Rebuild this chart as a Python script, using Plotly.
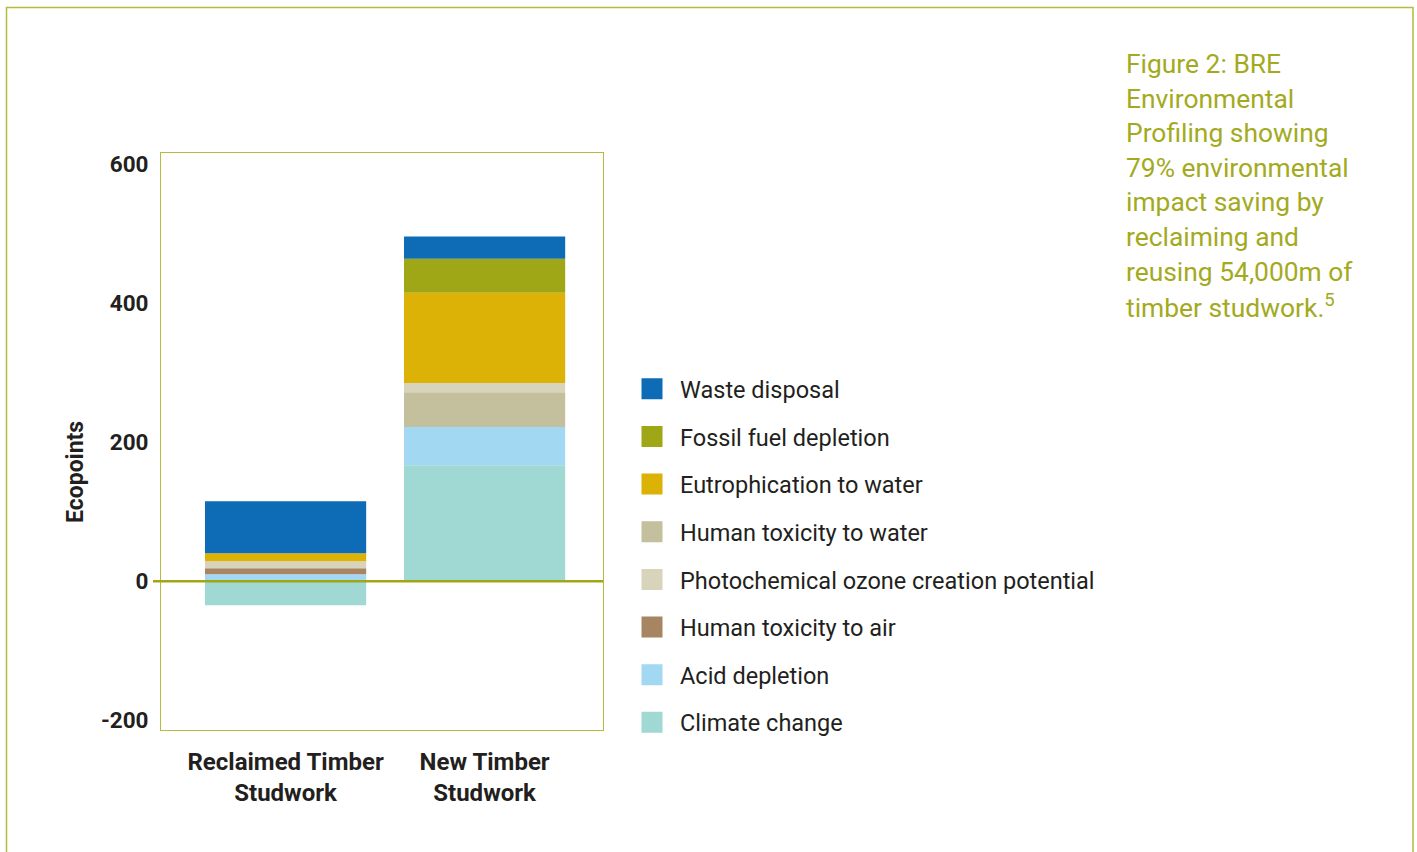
import plotly.graph_objects as go

categories = ["Reclaimed Timber<br>Studwork", "New Timber<br>Studwork"]

# stacking order, bottom to top
series_names = ["Climate change", "Acid depletion", "Human toxicity to air",
                "Human toxicity to water", "Photochemical ozone creation potential",
                "Eutrophication to water", "Fossil fuel depletion", "Waste disposal"]
climate_change = [-34.5, 167]
acid_depletion = [10, 55]
human_tox_air = [8.7, 0]
human_tox_water = [0, 50]
photochemical = [10, 13]
eutrophication = [11.5, 130]
fossil_fuel = [0, 49]
waste_disposal = [75, 32]
series_values = [climate_change, acid_depletion, human_tox_air, human_tox_water,
                 photochemical, eutrophication, fossil_fuel, waste_disposal]
series_colors = ["#A0D8D3", "#A3D8F3", "#A78563", "#C4BF9D", "#D8D3BB",
                 "#DDB206", "#A0A716", "#0D6CB5"]

legend_order = ["Waste disposal", "Fossil fuel depletion", "Eutrophication to water",
                "Human toxicity to water", "Photochemical ozone creation potential",
                "Human toxicity to air", "Acid depletion", "Climate change"]

y_ticks = [-200, 0, 200, 400, 600]
y_tick_labels = ["-200", "0", "200", "400", "600"]
y_title = "Ecopoints"

caption_lines = ["Figure 2: BRE", "Environmental", "Profiling showing",
                 "79% environmental", "impact saving by", "reclaiming and",
                 "reusing 54,000m of", "timber studwork.<sup>5</sup>"]

OLIVE = "#A0A716"
TEXT = "#231F20"
FONT = "Roboto"

W, H = 1417, 852
L, R, T, B = 161, 603, 153, 730  # plot area in pixels

fig = go.Figure()
color_of = dict(zip(series_names, series_colors))
for name, vals, col in zip(series_names, series_values, series_colors):
    fig.add_trace(go.Bar(x=categories, y=vals, name=name, marker=dict(color=col, line=dict(width=0)),
                         width=0.81, showlegend=False, hoverinfo="y+name"))

for i, name in enumerate(legend_order):
    c = color_of[name]
    fig.add_trace(go.Scatter(x=[None], y=[None], mode="markers", name=name,
                             legendgroup=f"g{i}",
                             marker=dict(symbol="square", size=16, color=c,
                                         line=dict(color=c, width=5))))

def px_x(p):
    return (p - L) / (R - L)

def px_y(p):
    return (B - p) / (B - T)

shapes = [
    # outer frame
    dict(type="rect", xref="paper", yref="paper", x0=px_x(6.5), x1=px_x(1413), y0=px_y(870), y1=px_y(7.5),
         line=dict(color="#B5BB3F", width=1.5), layer="below"),
    # zero line
    dict(type="line", xref="paper", yref="y", x0=px_x(153), x1=1, y0=0, y1=0,
         line=dict(color=OLIVE, width=2.5), layer="above"),
]

annotations = []
for i, line in enumerate(caption_lines):
    annotations.append(dict(xref="paper", yref="paper", x=px_x(1124), y=px_y(64 + i * 34.6),
                            xanchor="left", yanchor="middle", showarrow=False, align="left",
                            text=line, font=dict(family=FONT, size=26.4, color="#A3AA1E")))
annotations.append(dict(xref="paper", yref="paper", x=px_x(75), y=px_y(472),
                        xanchor="center", yanchor="middle", showarrow=False, textangle=-90,
                        text=y_title, font=dict(family=FONT, size=23, color=TEXT, weight="bold")))

fig.update_layout(
    width=W, height=H,
    margin=dict(l=L, r=W - R, t=T, b=H - B, autoexpand=False),
    paper_bgcolor="white", plot_bgcolor="white",
    barmode="relative",
    showlegend=True,
    legend=dict(x=px_x(624), y=px_y(367), xanchor="left", yanchor="top",
                traceorder="grouped", tracegroupgap=14.1, bgcolor="rgba(0,0,0,0)",
                itemwidth=46,
                font=dict(family=FONT, size=23.5, color=TEXT)),
    shapes=shapes,
    annotations=annotations,
    font=dict(family=FONT, color=TEXT),
)

fig.update_xaxes(
    range=[-0.626, 1.595], showgrid=False, zeroline=False,
    showline=True, mirror=True, linecolor="#B5BB3F", linewidth=1,
    ticks="", ticklabelstandoff=10,
    tickfont=dict(family=FONT, size=24, color=TEXT, weight="bold"),
)
fig.update_yaxes(
    range=[-214, 616], showgrid=False, zeroline=False,
    showline=True, mirror=True, linecolor="#B5BB3F", linewidth=1,
    tickvals=y_ticks, ticktext=y_tick_labels, ticks="", ticklabelstandoff=7,
    tickfont=dict(family=FONT, size=22.5, color=TEXT, weight="bold"),
)

fig.write_html("out.html")
